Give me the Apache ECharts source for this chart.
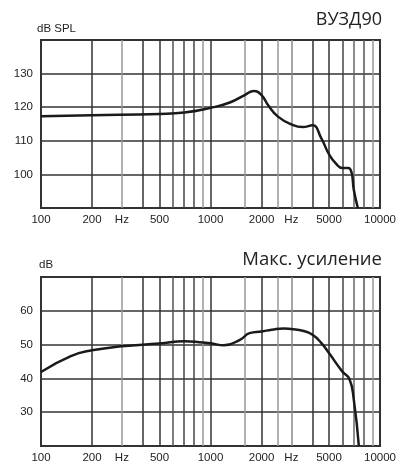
<!DOCTYPE html>
<html>
<head>
<meta charset="utf-8">
<script src="https://cdn.jsdelivr.net/npm/echarts@6/dist/echarts.min.js"></script>
<style>
html,body{margin:0;padding:0;background:#fff;}
#chart{width:399px;height:464px;}
</style>
</head>
<body>
<div id="chart"></div>
<script>
// частоты вертикальной сетки и их цвета (светлые - тонкие линии)
var gridFreqs = [100,200,300,400,500,600,700,800,900,1000,1600,2000,2500,3000,4000,5000,6000,7000,8000,9000,10000];
var gridColors = ['#333','#333','#999','#333','#333','#555','#444','#444','#999','#333','#999','#333','#999','#888','#333','#333','#444','#666','#555','#999','#333'];
var labelFreqs = [100,200,300,500,1000,2000,3000,5000,10000];

// ВУЗД90
var spl90Freq = [100,200,500,700,1000,1300,1600,1800,2000,2200,2500,3000,3500,4000,4500,5000,5500,6000,6500,6800,7000,7400];
var spl90Val  = [117.3,117.6,118,118.4,119.8,121.4,123.7,124.8,123.6,120.4,117.2,114.9,114.1,114.6,110.8,106,103.2,101.9,101.9,100.5,95.5,90];

// Макс. усиление
var gainFreq = [100,150,200,300,500,700,900,1000,1200,1500,1700,2000,2300,2700,3000,3500,4000,4500,5000,6000,6600,7000,7500];
var gainVal  = [41.9,46.6,48.3,49.5,50.3,51,50.6,50.4,49.8,51.5,53.4,53.9,54.4,54.8,54.6,54.1,52.9,50.5,47.5,42,39.8,33.8,20];

function pairs(xs, ys) {
    var out = [];
    for (var i = 0; i < xs.length; i++) {
        out.push([xs[i], ys[i]]);
    }
    return out;
}

var font = "'Liberation Sans', Arial, sans-serif";
var titleFont = "'Open Sans', sans-serif";

function makeX(idx) {
    return {
        type: 'log',
        logBase: 10,
        gridIndex: idx,
        min: 100,
        max: 10000,
        axisLine: {show: false},
        axisTick: {show: false, customValues: gridFreqs},
        axisLabel: {
            customValues: labelFreqs,
            margin: 6,
            fontFamily: font,
            fontSize: 11.5,
            color: '#222',
            formatter: function (v) {
                v = Math.round(v);
                if (v === 300 || v === 3000) return 'Hz';
                return String(v);
            }
        },
        splitLine: {show: true, lineStyle: {color: gridColors, width: 1.5}}
    };
}

function makeY(idx, min, max) {
    return {
        type: 'value',
        gridIndex: idx,
        min: min,
        max: max,
        interval: 10,
        axisLine: {show: false},
        axisTick: {show: false},
        axisLabel: {
            showMinLabel: false,
            showMaxLabel: false,
            margin: 8,
            fontFamily: font,
            fontSize: 11.5,
            color: '#222'
        },
        splitLine: {show: true, lineStyle: {color: '#333', width: 1.5}}
    };
}

var chart = echarts.init(document.getElementById('chart'));
var option = {
    animation: false,
    title: [
        {text: 'ВУЗД90', right: 17, top: 11, padding: 0, textStyle: {fontFamily: titleFont, fontSize: 18, fontWeight: 'normal', color: '#222'}},
        {text: 'dB SPL', left: 37, top: 23, padding: 0, textStyle: {fontFamily: font, fontSize: 11.5, fontWeight: 'normal', color: '#222'}},
        {text: 'Макс. усиление', right: 17, top: 250, padding: 0, textStyle: {fontFamily: titleFont, fontSize: 18.5, fontWeight: 'normal', color: '#222'}},
        {text: 'dB', left: 39, top: 259, padding: 0, textStyle: {fontFamily: font, fontSize: 11.5, fontWeight: 'normal', color: '#222'}}
    ],
    grid: [
        {left: 41, right: 18, top: 40, height: 168, show: true, borderColor: '#333', borderWidth: 2},
        {left: 41, right: 18, top: 277, height: 170, show: true, borderColor: '#333', borderWidth: 2}
    ],
    xAxis: [makeX(0), makeX(1)],
    yAxis: [makeY(0, 90, 140), makeY(1, 20, 70)],
    series: [
        {
            name: 'ВУЗД90',
            type: 'line',
            xAxisIndex: 0,
            yAxisIndex: 0,
            data: pairs(spl90Freq, spl90Val),
            symbol: 'none',
            smooth: 0.5,
            lineStyle: {color: '#1a1a1a', width: 2.5}
        },
        {
            name: 'Макс. усиление',
            type: 'line',
            xAxisIndex: 1,
            yAxisIndex: 1,
            data: pairs(gainFreq, gainVal),
            symbol: 'none',
            smooth: 0.5,
            lineStyle: {color: '#1a1a1a', width: 2.5}
        }
    ]
};
chart.setOption(option);
</script>
</body>
</html>
